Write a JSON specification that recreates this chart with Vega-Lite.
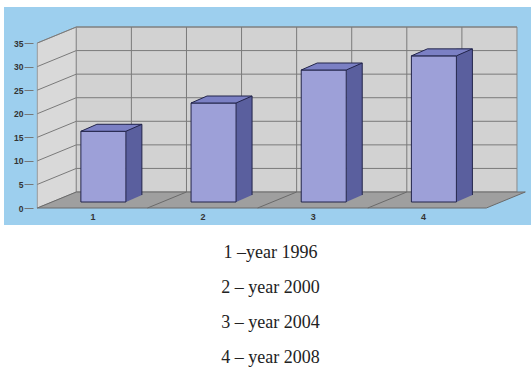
{
  "$schema": "https://vega.github.io/schema/vega-lite/v6.json",
  "width": 527,
  "height": 218,
  "padding": {"left": 4, "top": 7, "right": 0, "bottom": 0},
  "background": "white",
  "config": {
    "view": {"fill": "#9dcfee", "stroke": null},
    "font": "Liberation Sans",
    "axisX": {"title": null, "format": "d", "offset": -17, "ticks": false, "domain": false, "grid": false, "labelOverlap": false, "labelPadding": 4, "labelFont": "Liberation Sans", "labelFontSize": 9, "labelFontWeight": "bold", "labelColor": "#333333"},
    "axisY": {"title": null, "offset": -29, "domain": false, "grid": false, "labelOverlap": false, "tickSize": 9, "tickColor": "#777777", "labelPadding": 1, "labelFont": "Liberation Sans", "labelFontSize": 8.5, "labelFontWeight": "bold", "labelColor": "#333333"}
  },
  "title": {
    "text": ["1 –year 1996", "2 – year 2000", "3 – year 2004", "4 – year 2008"],
    "orient": "bottom",
    "anchor": "middle",
    "font": "Liberation Serif",
    "fontSize": 18,
    "fontWeight": "normal",
    "color": "#222222",
    "lineHeight": 35,
    "offset": 19,
    "dx": 3
  },
  "datasets": {
    "sales": [
      {"n": 1, "value": 15},
      {"n": 2, "value": 21},
      {"n": 3, "value": 28},
      {"n": 4, "value": 31}
    ],
    "hgrid": [{"v": 5}, {"v": 10}, {"v": 15}, {"v": 20}, {"v": 25}, {"v": 30}, {"v": 35}],
    "vgrid": [{"g": 1}, {"g": 1.5}, {"g": 2}, {"g": 2.5}, {"g": 3}, {"g": 3.5}, {"g": 4}],
    "floorlines": [{"u": 1.5}, {"u": 2.5}, {"u": 3.5}]
  },
  "layer": [
    {
      "data": {"values": [{}]},
      "mark": {"type": "point", "shape": "M0,0L0,-165L39,-181L39,-16Z", "size": 4, "filled": true, "fill": "#d9d9d9", "stroke": "#9a9a9a", "strokeWidth": 1, "opacity": 1},
      "encoding": {
        "x": {"datum": 0.5, "type": "quantitative", "scale": {"domain": [0.2431, 4.9359], "nice": false, "zero": false}, "title": null, "axis": {"values": [1, 2, 3, 4]}},
        "y": {"datum": 0, "type": "quantitative", "scale": {"domain": [-3.606, 42.64], "nice": false, "zero": false}, "title": null, "axis": {"values": [0, 5, 10, 15, 20, 25, 30, 35]}}
      }
    },
    {
      "data": {"values": [{}]},
      "mark": {"type": "rect", "fill": "#d2d2d2", "stroke": "#8a8a8a", "strokeWidth": 1, "xOffset": 39, "x2Offset": 39, "yOffset": -16, "y2Offset": -16},
      "encoding": {
        "x": {"datum": 0.5, "type": "quantitative", "scale": {"domain": [0.2431, 4.9359], "nice": false, "zero": false}, "title": null, "axis": {"values": [1, 2, 3, 4]}},
        "x2": {"datum": 4.5},
        "y": {"datum": 0, "type": "quantitative", "scale": {"domain": [-3.606, 42.64], "nice": false, "zero": false}, "title": null, "axis": {"values": [0, 5, 10, 15, 20, 25, 30, 35]}},
        "y2": {"datum": 35}
      }
    },
    {
      "data": {"name": "hgrid"},
      "mark": {"type": "rule", "color": "#7a7a7a", "strokeWidth": 1, "xOffset": 39, "x2Offset": 39, "yOffset": -16},
      "encoding": {
        "x": {"datum": 0.5, "type": "quantitative", "scale": {"domain": [0.2431, 4.9359], "nice": false, "zero": false}, "title": null, "axis": {"values": [1, 2, 3, 4]}},
        "x2": {"datum": 4.5},
        "y": {"field": "v", "type": "quantitative", "scale": {"domain": [-3.606, 42.64], "nice": false, "zero": false}, "title": null, "axis": {"values": [0, 5, 10, 15, 20, 25, 30, 35]}}
      }
    },
    {
      "data": {"name": "vgrid"},
      "mark": {"type": "rule", "color": "#7a7a7a", "strokeWidth": 1, "xOffset": 39, "yOffset": -16, "y2Offset": -16},
      "encoding": {
        "x": {"field": "g", "type": "quantitative", "scale": {"domain": [0.2431, 4.9359], "nice": false, "zero": false}, "title": null, "axis": {"values": [1, 2, 3, 4]}},
        "y": {"datum": 0, "type": "quantitative", "scale": {"domain": [-3.606, 42.64], "nice": false, "zero": false}, "title": null, "axis": {"values": [0, 5, 10, 15, 20, 25, 30, 35]}},
        "y2": {"datum": 35}
      }
    },
    {
      "data": {"name": "hgrid"},
      "mark": {"type": "rule", "color": "#7a7a7a", "strokeWidth": 1, "x2Offset": 39, "y2Offset": -16},
      "encoding": {
        "x": {"datum": 0.5, "type": "quantitative", "scale": {"domain": [0.2431, 4.9359], "nice": false, "zero": false}, "title": null, "axis": {"values": [1, 2, 3, 4]}},
        "x2": {"datum": 0.5},
        "y": {"field": "v", "type": "quantitative", "scale": {"domain": [-3.606, 42.64], "nice": false, "zero": false}, "title": null, "axis": {"values": [0, 5, 10, 15, 20, 25, 30, 35]}},
        "y2": {"field": "v"}
      }
    },
    {
      "data": {"values": [{}]},
      "mark": {"type": "point", "shape": "M0,0L449,0L488,-16L39,-16Z", "size": 4, "filled": true, "fill": "#9f9f9f", "stroke": "#6a6a6a", "strokeWidth": 1, "opacity": 1},
      "encoding": {
        "x": {"datum": 0.5, "type": "quantitative", "scale": {"domain": [0.2431, 4.9359], "nice": false, "zero": false}, "title": null, "axis": {"values": [1, 2, 3, 4]}},
        "y": {"datum": 0, "type": "quantitative", "scale": {"domain": [-3.606, 42.64], "nice": false, "zero": false}, "title": null, "axis": {"values": [0, 5, 10, 15, 20, 25, 30, 35]}}
      }
    },
    {
      "data": {"name": "floorlines"},
      "mark": {"type": "rule", "color": "#6a6a6a", "strokeWidth": 1, "x2Offset": 39, "y2Offset": -16},
      "encoding": {
        "x": {"field": "u", "type": "quantitative", "scale": {"domain": [0.2431, 4.9359], "nice": false, "zero": false}, "title": null, "axis": {"values": [1, 2, 3, 4]}},
        "x2": {"field": "u"},
        "y": {"datum": 0, "type": "quantitative", "scale": {"domain": [-3.606, 42.64], "nice": false, "zero": false}, "title": null, "axis": {"values": [0, 5, 10, 15, 20, 25, 30, 35]}},
        "y2": {"datum": 0}
      }
    },
    {
      "data": {"name": "sales"},
      "mark": {"type": "bar", "size": 16, "fill": "#5a5f9e", "xOffset": 41.5, "yOffset": -13, "y2Offset": -13},
      "encoding": {
        "x": {"field": "n", "type": "quantitative", "scale": {"domain": [0.2431, 4.9359], "nice": false, "zero": false}, "title": null, "axis": {"values": [1, 2, 3, 4]}},
        "y": {"field": "value", "type": "quantitative", "scale": {"domain": [-3.606, 42.64], "nice": false, "zero": false}, "title": null, "axis": {"values": [0, 5, 10, 15, 20, 25, 30, 35]}},
        "y2": {"datum": 0}
      }
    },
    {
      "data": {"name": "sales"},
      "mark": {"type": "point", "shape": "M22.5,0L22.5,-7L38.5,-7Z", "size": 4, "filled": true, "fill": "#5a5f9e", "strokeWidth": 0, "opacity": 1, "xOffset": 11, "yOffset": -6},
      "encoding": {
        "x": {"field": "n", "type": "quantitative", "scale": {"domain": [0.2431, 4.9359], "nice": false, "zero": false}, "title": null, "axis": {"values": [1, 2, 3, 4]}},
        "y": {"datum": 0, "type": "quantitative", "scale": {"domain": [-3.606, 42.64], "nice": false, "zero": false}, "title": null, "axis": {"values": [0, 5, 10, 15, 20, 25, 30, 35]}}
      }
    },
    {
      "data": {"name": "sales"},
      "mark": {"type": "rule", "color": "#22244a", "strokeWidth": 1, "xOffset": 49.5, "yOffset": -13, "y2Offset": -13},
      "encoding": {
        "x": {"field": "n", "type": "quantitative", "scale": {"domain": [0.2431, 4.9359], "nice": false, "zero": false}, "title": null, "axis": {"values": [1, 2, 3, 4]}},
        "y": {"field": "value", "type": "quantitative", "scale": {"domain": [-3.606, 42.64], "nice": false, "zero": false}, "title": null, "axis": {"values": [0, 5, 10, 15, 20, 25, 30, 35]}},
        "y2": {"datum": 0}
      }
    },
    {
      "data": {"name": "sales"},
      "mark": {"type": "bar", "size": 45, "fill": "#9da0d8", "stroke": "#22244a", "strokeWidth": 1, "xOffset": 11, "yOffset": -6, "y2Offset": -6},
      "encoding": {
        "x": {"field": "n", "type": "quantitative", "scale": {"domain": [0.2431, 4.9359], "nice": false, "zero": false}, "title": null, "axis": {"values": [1, 2, 3, 4]}},
        "y": {"field": "value", "type": "quantitative", "scale": {"domain": [-3.606, 42.64], "nice": false, "zero": false}, "title": null, "axis": {"values": [0, 5, 10, 15, 20, 25, 30, 35]}},
        "y2": {"datum": 0}
      }
    },
    {
      "data": {"name": "sales"},
      "mark": {"type": "point", "shape": "M-22.5,0L22.5,0L38.5,-7L-6.5,-7Z", "size": 4, "filled": true, "fill": "#7b80c4", "stroke": "#22244a", "strokeWidth": 1, "opacity": 1, "xOffset": 11, "yOffset": -6},
      "encoding": {
        "x": {"field": "n", "type": "quantitative", "scale": {"domain": [0.2431, 4.9359], "nice": false, "zero": false}, "title": null, "axis": {"values": [1, 2, 3, 4]}},
        "y": {"field": "value", "type": "quantitative", "scale": {"domain": [-3.606, 42.64], "nice": false, "zero": false}, "title": null, "axis": {"values": [0, 5, 10, 15, 20, 25, 30, 35]}}
      }
    }
  ]
}
